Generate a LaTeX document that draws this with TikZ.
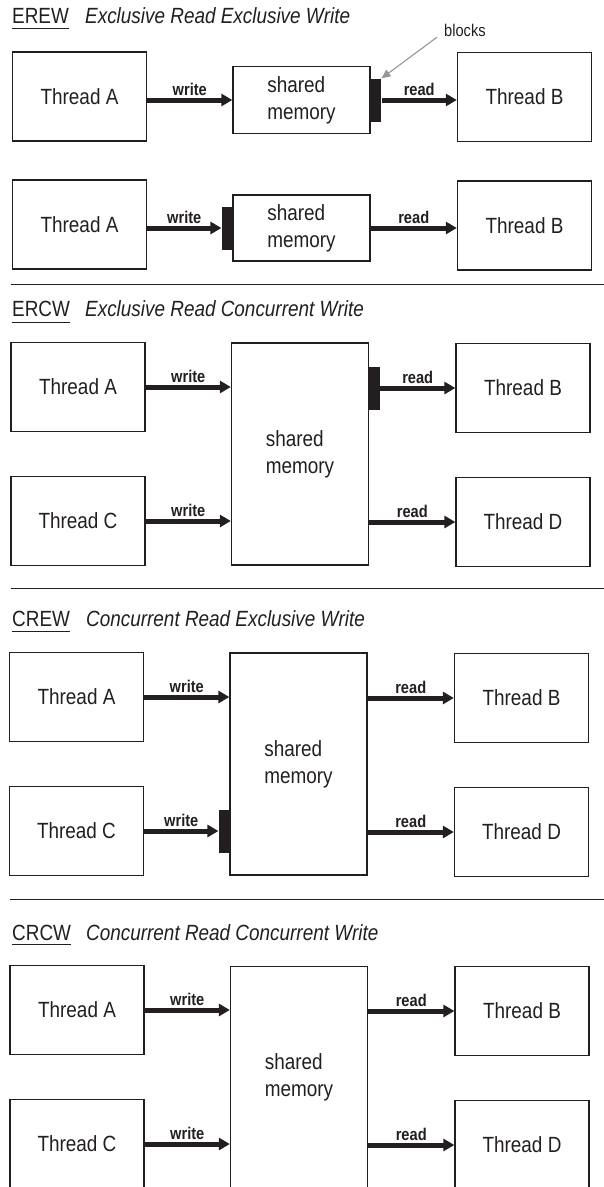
\documentclass[tikz,border=0pt]{standalone}
\usepackage{fontspec}
\setmainfont{Liberation Sans}[FakeStretch=0.86]
\usetikzlibrary{arrows.meta,calc}
\definecolor{ink}{RGB}{35,31,32}
\definecolor{pointer}{RGB}{150,150,150}
\begin{document}
\begin{tikzpicture}[x=1pt,y=-1pt,
  thread/.style={draw=ink, line width=1.3pt, minimum width=134pt, minimum height=89pt, inner sep=0pt, text=ink, font=\fontsize{22}{27}\selectfont},
  mem/.style={draw=ink, line width=1.3pt, minimum width=137pt, inner sep=0pt, align=left, text=ink, font=\fontsize{22}{27}\selectfont},
  blk/.style={fill=ink, minimum width=10.5pt, minimum height=43pt, inner sep=0pt},
  arr/.style={draw=ink, line width=5pt, -{Triangle[length=11pt,width=12pt]}},
  lbl/.style={font=\bfseries\fontsize{17}{20}\selectfont, text=ink, anchor=base, yshift=5pt, inner sep=0pt},
  ttl/.style={font=\fontsize{22}{27}\selectfont, text=ink, anchor=base west, inner sep=0pt},
  ttli/.style={font=\itshape\fontsize{22}{27}\selectfont, text=ink, anchor=base west, inner sep=0pt},
  uline/.style={draw=ink, line width=1.2pt},
  sep/.style={draw=ink, line width=1.3pt},
  ptr/.style={draw=pointer, line width=1.1pt, -{Triangle[length=9pt,width=8pt]}},
  note/.style={font=\fontsize{17}{20}\selectfont, text=ink, anchor=base west, inner sep=0pt}
]
\useasboundingbox (0,0) rectangle (604,1187);
\clip (0,0) rectangle (604,1187);

% ---------------- EREW ----------------
\node[ttl] (t1) at (12,23.3) {EREW};
\node[ttli] (t1i) at (85,23.3) {Exclusive Read Exclusive Write};
\draw[uline] ($(t1.base west)+(0,5.5)$) -- ($(t1.base east)+(0,5.5)$);

\node[thread] (a1) at (79.5,96.5) {Thread A};
\node[mem, minimum height=66.6pt] (m1) at (301.5,100) {shared\\memory};
\node[thread] (b1) at (524.5,97) {Thread B};
\node[blk, anchor=west] (k1) at (m1.east) {};
\draw[arr] (a1.east |- m1.west) -- node[lbl]{write} (m1.west);
\draw[arr] (k1.east) -- node[lbl]{read} (k1.east -| b1.west);
\node[note] (bl) at (444,36.7) {blocks};
\draw[ptr] ([xshift=-7pt,yshift=-0.5pt]bl.base west) -- (k1.north east);

\node[thread] (a2) at (79.5,224.5) {Thread A};
\node[mem, minimum height=66pt] (m2) at (301.5,228) {shared\\memory};
\node[thread] (b2) at (524.5,225.5) {Thread B};
\node[blk, anchor=east] (k2) at (m2.west) {};
\draw[arr] (a2.east |- k2.west) -- node[lbl]{write} (k2.west);
\draw[arr] (m2.east) -- node[lbl]{read} (m2.east -| b2.west);

\draw[sep] (11,284.5) -- (604,284.5);

% ---------------- ERCW ----------------
\node[ttl] (t2) at (12,316.7) {ERCW};
\node[ttli] (t2i) at (85,316.7) {Exclusive Read Concurrent Write};
\draw[uline] ($(t2.base west)+(0,5.5)$) -- ($(t2.base east)+(0,5.5)$);

\node[thread] (a3) at (78,387) {Thread A};
\node[thread] (c3) at (78,521) {Thread C};
\node[mem, minimum height=222pt] (m3) at (300,454) {shared\\memory};
\node[thread] (b3) at (523,388) {Thread B};
\node[thread] (d3) at (523,522) {Thread D};
\draw[arr] (a3.east) -- node[lbl]{write} (a3.east -| m3.west);
\draw[arr] (c3.east) -- node[lbl]{write} (c3.east -| m3.west);
\node[blk, anchor=west] (k3) at (m3.east |- b3.west) {};
\draw[arr] (k3.east) -- node[lbl]{read} (b3.west);
\draw[arr] (m3.east |- d3.west) -- node[lbl]{read} (d3.west);

\draw[sep] (11,588.3) -- (604,588.3);

% ---------------- CREW ----------------
\node[ttl] (t3) at (12,626.7) {CREW};
\node[ttli] (t3i) at (86,626.7) {Concurrent Read Exclusive Write};
\draw[uline] ($(t3.base west)+(0,5)$) -- ($(t3.base east)+(0,5)$);

\node[thread] (a4) at (76.5,697) {Thread A};
\node[thread] (c4) at (76.5,831) {Thread C};
\node[mem, minimum height=222pt] (m4) at (298.5,764) {shared\\memory};
\node[thread] (b4) at (521.5,698) {Thread B};
\node[thread] (d4) at (521.5,832) {Thread D};
\draw[arr] (a4.east) -- node[lbl]{write} (a4.east -| m4.west);
\node[blk, anchor=east] (k4) at (c4.east -| m4.west) {};
\draw[arr] (c4.east) -- node[lbl]{write} (k4.west);
\draw[arr] (m4.east |- b4.west) -- node[lbl]{read} (b4.west);
\draw[arr] (m4.east |- d4.west) -- node[lbl]{read} (d4.west);

\draw[sep] (10,899.5) -- (604,899.5);

% ---------------- CRCW ----------------
\node[ttl] (t4) at (12,940) {CRCW};
\node[ttli] (t4i) at (86,940) {Concurrent Read Concurrent Write};
\draw[uline] ($(t4.base west)+(0,4.5)$) -- ($(t4.base east)+(0,4.5)$);

\node[thread] (a5) at (77,1010) {Thread A};
\node[thread] (c5) at (77,1144) {Thread C};
\node[mem, minimum height=222pt] (m5) at (299,1077.7) {shared\\memory};
\node[thread] (b5) at (522,1011) {Thread B};
\node[thread] (d5) at (522,1145) {Thread D};
\draw[arr] (a5.east) -- node[lbl]{write} (a5.east -| m5.west);
\draw[arr] (c5.east) -- node[lbl]{write} (c5.east -| m5.west);
\draw[arr] (m5.east |- b5.west) -- node[lbl]{read} (b5.west);
\draw[arr] (m5.east |- d5.west) -- node[lbl]{read} (d5.west);
\end{tikzpicture}
\end{document}
